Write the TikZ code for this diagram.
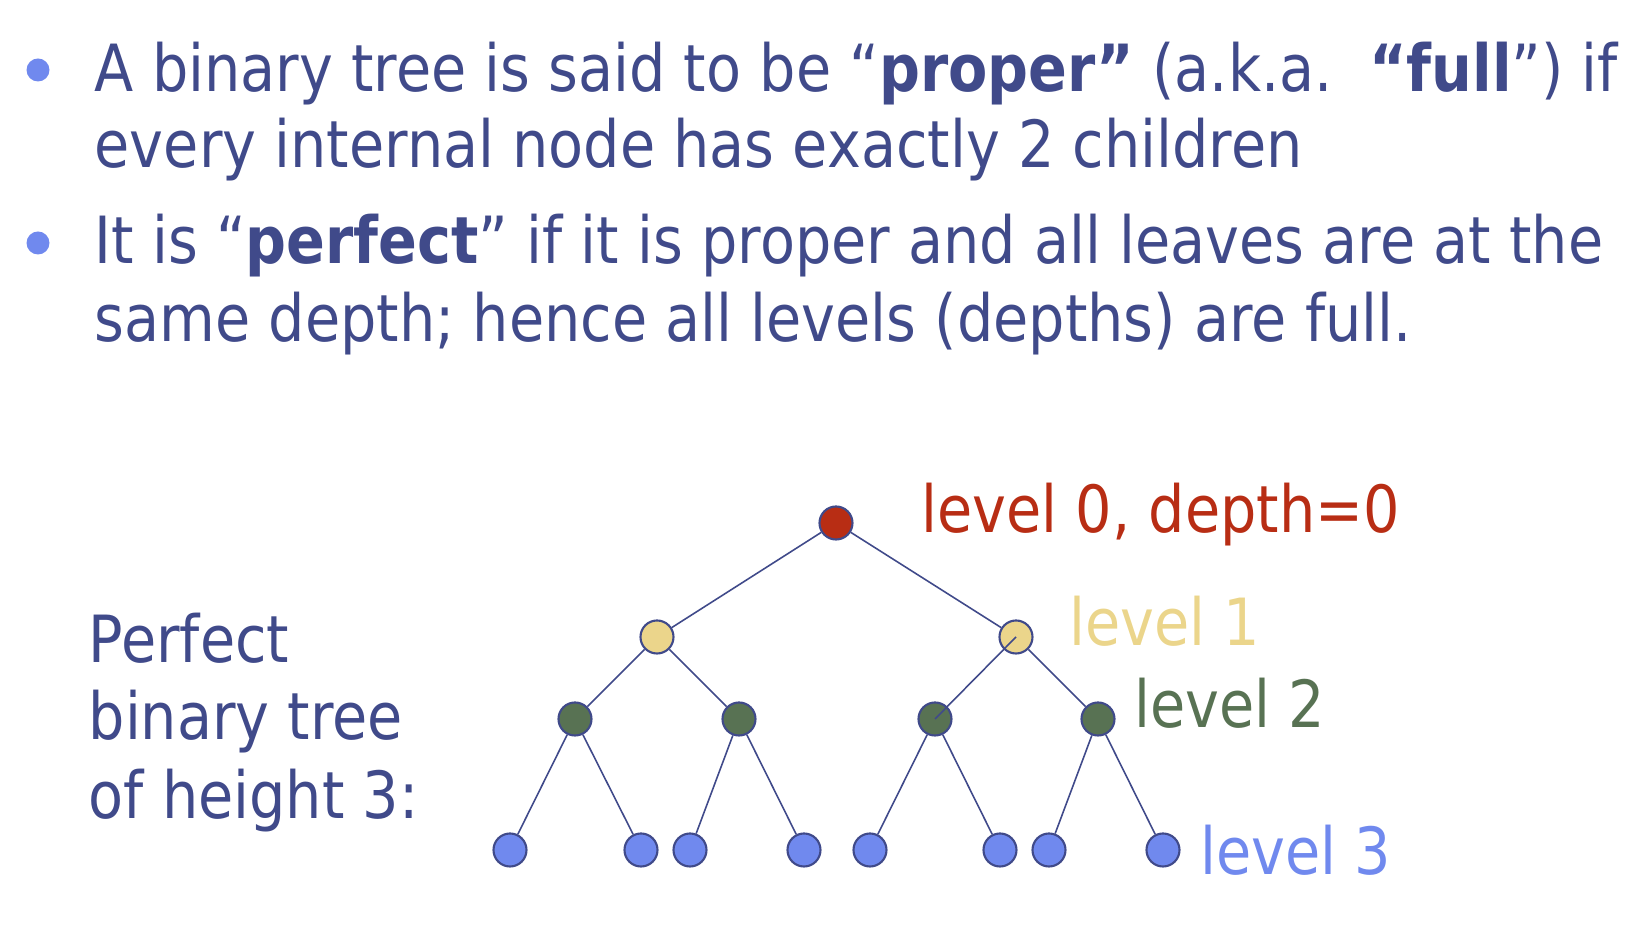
\documentclass[tikz,border=0pt]{standalone}
\usepackage{fontspec}
\setmainfont{DejaVu Sans}[FakeStretch=0.88]
\definecolor{ink}{HTML}{404A8A}
\definecolor{rootred}{HTML}{B82D14}
\definecolor{sand}{HTML}{EBD58B}
\definecolor{moss}{HTML}{587253}
\definecolor{sky}{HTML}{7089EE}
\begin{document}
\begin{tikzpicture}[x=0.01cm, y=-0.01cm,
    vtx/.style={circle, draw=ink, line width=0.6pt, minimum size=0.33cm, inner sep=0pt},
    edge/.style={draw=ink, line width=0.45pt},
    txt/.style={anchor=base west, inner sep=0pt, font=\fontsize{18.5}{22}\selectfont}]
  \useasboundingbox (0,0) rectangle (1638,928);

  % bullets and text
  \fill [sky] (38,70) circle [radius=11.5];
  \fill [sky] (38,243) circle [radius=11.5];
  \node [txt, ink] (t1) at (94,92) {A binary tree is said to be “\textbf{proper”} (a.k.a.\ \ \textbf{“full}”) if};
  \node [txt, ink] (t2) at (94,168) {every internal node has exactly 2 children};
  \node [txt, ink] (t3) at (94,264) {It is “\textbf{perfect}” if it is proper and all leaves are at the};
  \node [txt, ink] (t4) at (94,342) {same depth; hence all levels (depths) are full.};

  \node [txt, ink] (p1) at (88,663) {Perfect};
  \node [txt, ink] (p2) at (88,740) {binary tree};
  \node [txt, ink] (p3) at (88,819) {of height 3:};

  % the tree
  \node [vtx, fill=rootred] (r) at (836,523) {};
  \node [vtx, fill=sand] (a) at (657,637) {};
  \node [vtx, fill=sand] (b) at (1016,637) {};
  \node [vtx, fill=moss] (aa) at (575,719) {};
  \node [vtx, fill=moss] (ab) at (739,719) {};
  \node [vtx, fill=moss] (ba) at (935,719) {};
  \node [vtx, fill=moss] (bb) at (1098,719) {};
  \node [vtx, fill=sky] (aaa) at (510,850) {};
  \node [vtx, fill=sky] (aab) at (641,850) {};
  \node [vtx, fill=sky] (aba) at (690,850) {};
  \node [vtx, fill=sky] (abb) at (804,850) {};
  \node [vtx, fill=sky] (baa) at (870,850) {};
  \node [vtx, fill=sky] (bab) at (1000,850) {};
  \node [vtx, fill=sky] (bba) at (1049,850) {};
  \node [vtx, fill=sky] (bbb) at (1163,850) {};

  \draw [edge] (r) -- (a);
  \draw [edge] (r) -- (b);
  \draw [edge] (a) -- (aa);
  \draw [edge] (a) -- (ab);
  \draw [edge] (b) -- (bb);
  \draw [edge] (b.center) -- (ba.center);
  \draw [edge] (aa) -- (aaa);
  \draw [edge] (aa) -- (aab);
  \draw [edge] (ab) -- (aba);
  \draw [edge] (ab) -- (abb);
  \draw [edge] (ba) -- (baa);
  \draw [edge] (ba) -- (bab);
  \draw [edge] (bb) -- (bba);
  \draw [edge] (bb) -- (bbb);

  % level labels
  \node [txt, rootred] (lv0) at (921,533) {level 0, depth=0};
  \node [txt, sand] (lv1) at (1069,646) {level 1};
  \node [txt, moss] (lv2) at (1134,728) {level 2};
  \node [txt, sky] (lv3) at (1200,875) {level 3};
\end{tikzpicture}
\end{document}
